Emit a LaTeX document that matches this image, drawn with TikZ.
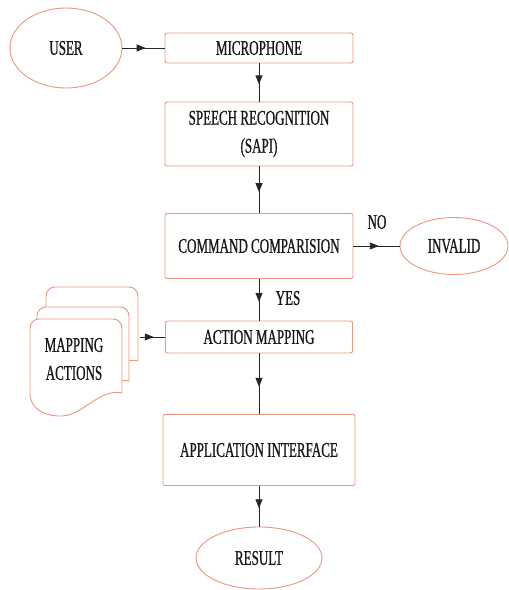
\documentclass[tikz,border=0pt]{standalone}
\usepackage{fontspec}
\setmainfont{Liberation Serif}[FakeStretch=0.62,FakeBold=0.8]
\usepackage{tikz}
\usetikzlibrary{shapes.geometric,arrows.meta,decorations.markings}
\definecolor{boxLine}{RGB}{236,150,128}
\colorlet{flowLine}{black!85}
\colorlet{labelText}{black!90}

\begin{document}
\begin{tikzpicture}[
  x=1pt, y=-1pt,
  font=\fontsize{21}{28}\selectfont,
  text=labelText,
  process/.style={
    draw=boxLine,
    line width=0.9pt,
    rounded corners=2pt,
    fill=white,
    inner sep=0pt,
    align=center,
  },
  terminal/.style={
    ellipse,
    draw=boxLine,
    line width=0.9pt,
    fill=white,
    inner sep=0pt,
  },
  docline/.style={
    draw=boxLine,
    line width=0.9pt,
    fill=white,
  },
  flowarrow/.style={
    draw=flowLine,
    line width=0.9pt,
    postaction={decorate},
    decoration={markings,
      mark=at position 0.55 with {\arrow{Triangle[width=7pt,length=9pt]}}},
  }
]
\useasboundingbox (0,0) rectangle (509,590);

% main column
\node[terminal,minimum width=112,minimum height=80] (user) at (66,48) {USER};
\node[process,minimum width=188,minimum height=30] (mic) at (259,48) {MICROPHONE};
\node[process,minimum width=188,minimum height=64] (speech) at (259,134)
  {SPEECH RECOGNITION\\(SAPI)};
\node[process,minimum width=188,minimum height=65] (compare) at (259,246)
  {COMMAND COMPARISION};
\node[terminal,minimum width=108,minimum height=57] (invalid) at (454,246) {INVALID};
\node[process,minimum width=187,minimum height=32] (mapping) at (259,337)
  {ACTION MAPPING};
\node[process,minimum width=192,minimum height=71] (app) at (259,450)
  {APPLICATION INTERFACE};
\node[terminal,minimum width=126,minimum height=62] (result) at (259,558) {RESULT};

% stacked documents
\foreach \dx/\dy in {16/-32, 7/-12, 0/0}
  \draw[docline,shift={(\dx,\dy)}] (30,396)
    [rounded corners=9pt] -- (30,319) -- (122,319) [sharp corners] -- (122,393)
    .. controls (98,388) and (82,418) .. (58,416)
    .. controls (42,415) and (32,408) .. cycle;
\node[align=center] (mapacts) at (74,359) {MAPPING\\ACTIONS};
\coordinate (docsout) at (140,337);

% labels
\node (no) at (377,222) {NO};
\node (yes) at (288,298) {YES};

% connectors
\draw[flowarrow] (user) -- (mic);
\draw[flowarrow] (mic) -- (speech);
\draw[flowarrow] (speech) -- (compare);
\draw[flowarrow] (compare) -- (invalid);
\draw[flowarrow] (compare) -- (mapping);
\draw[flowarrow] (docsout) -- (mapping);
\draw[flowarrow] (mapping) -- (app);
\draw[flowarrow] (app) -- (result);
\end{tikzpicture}
\end{document}
